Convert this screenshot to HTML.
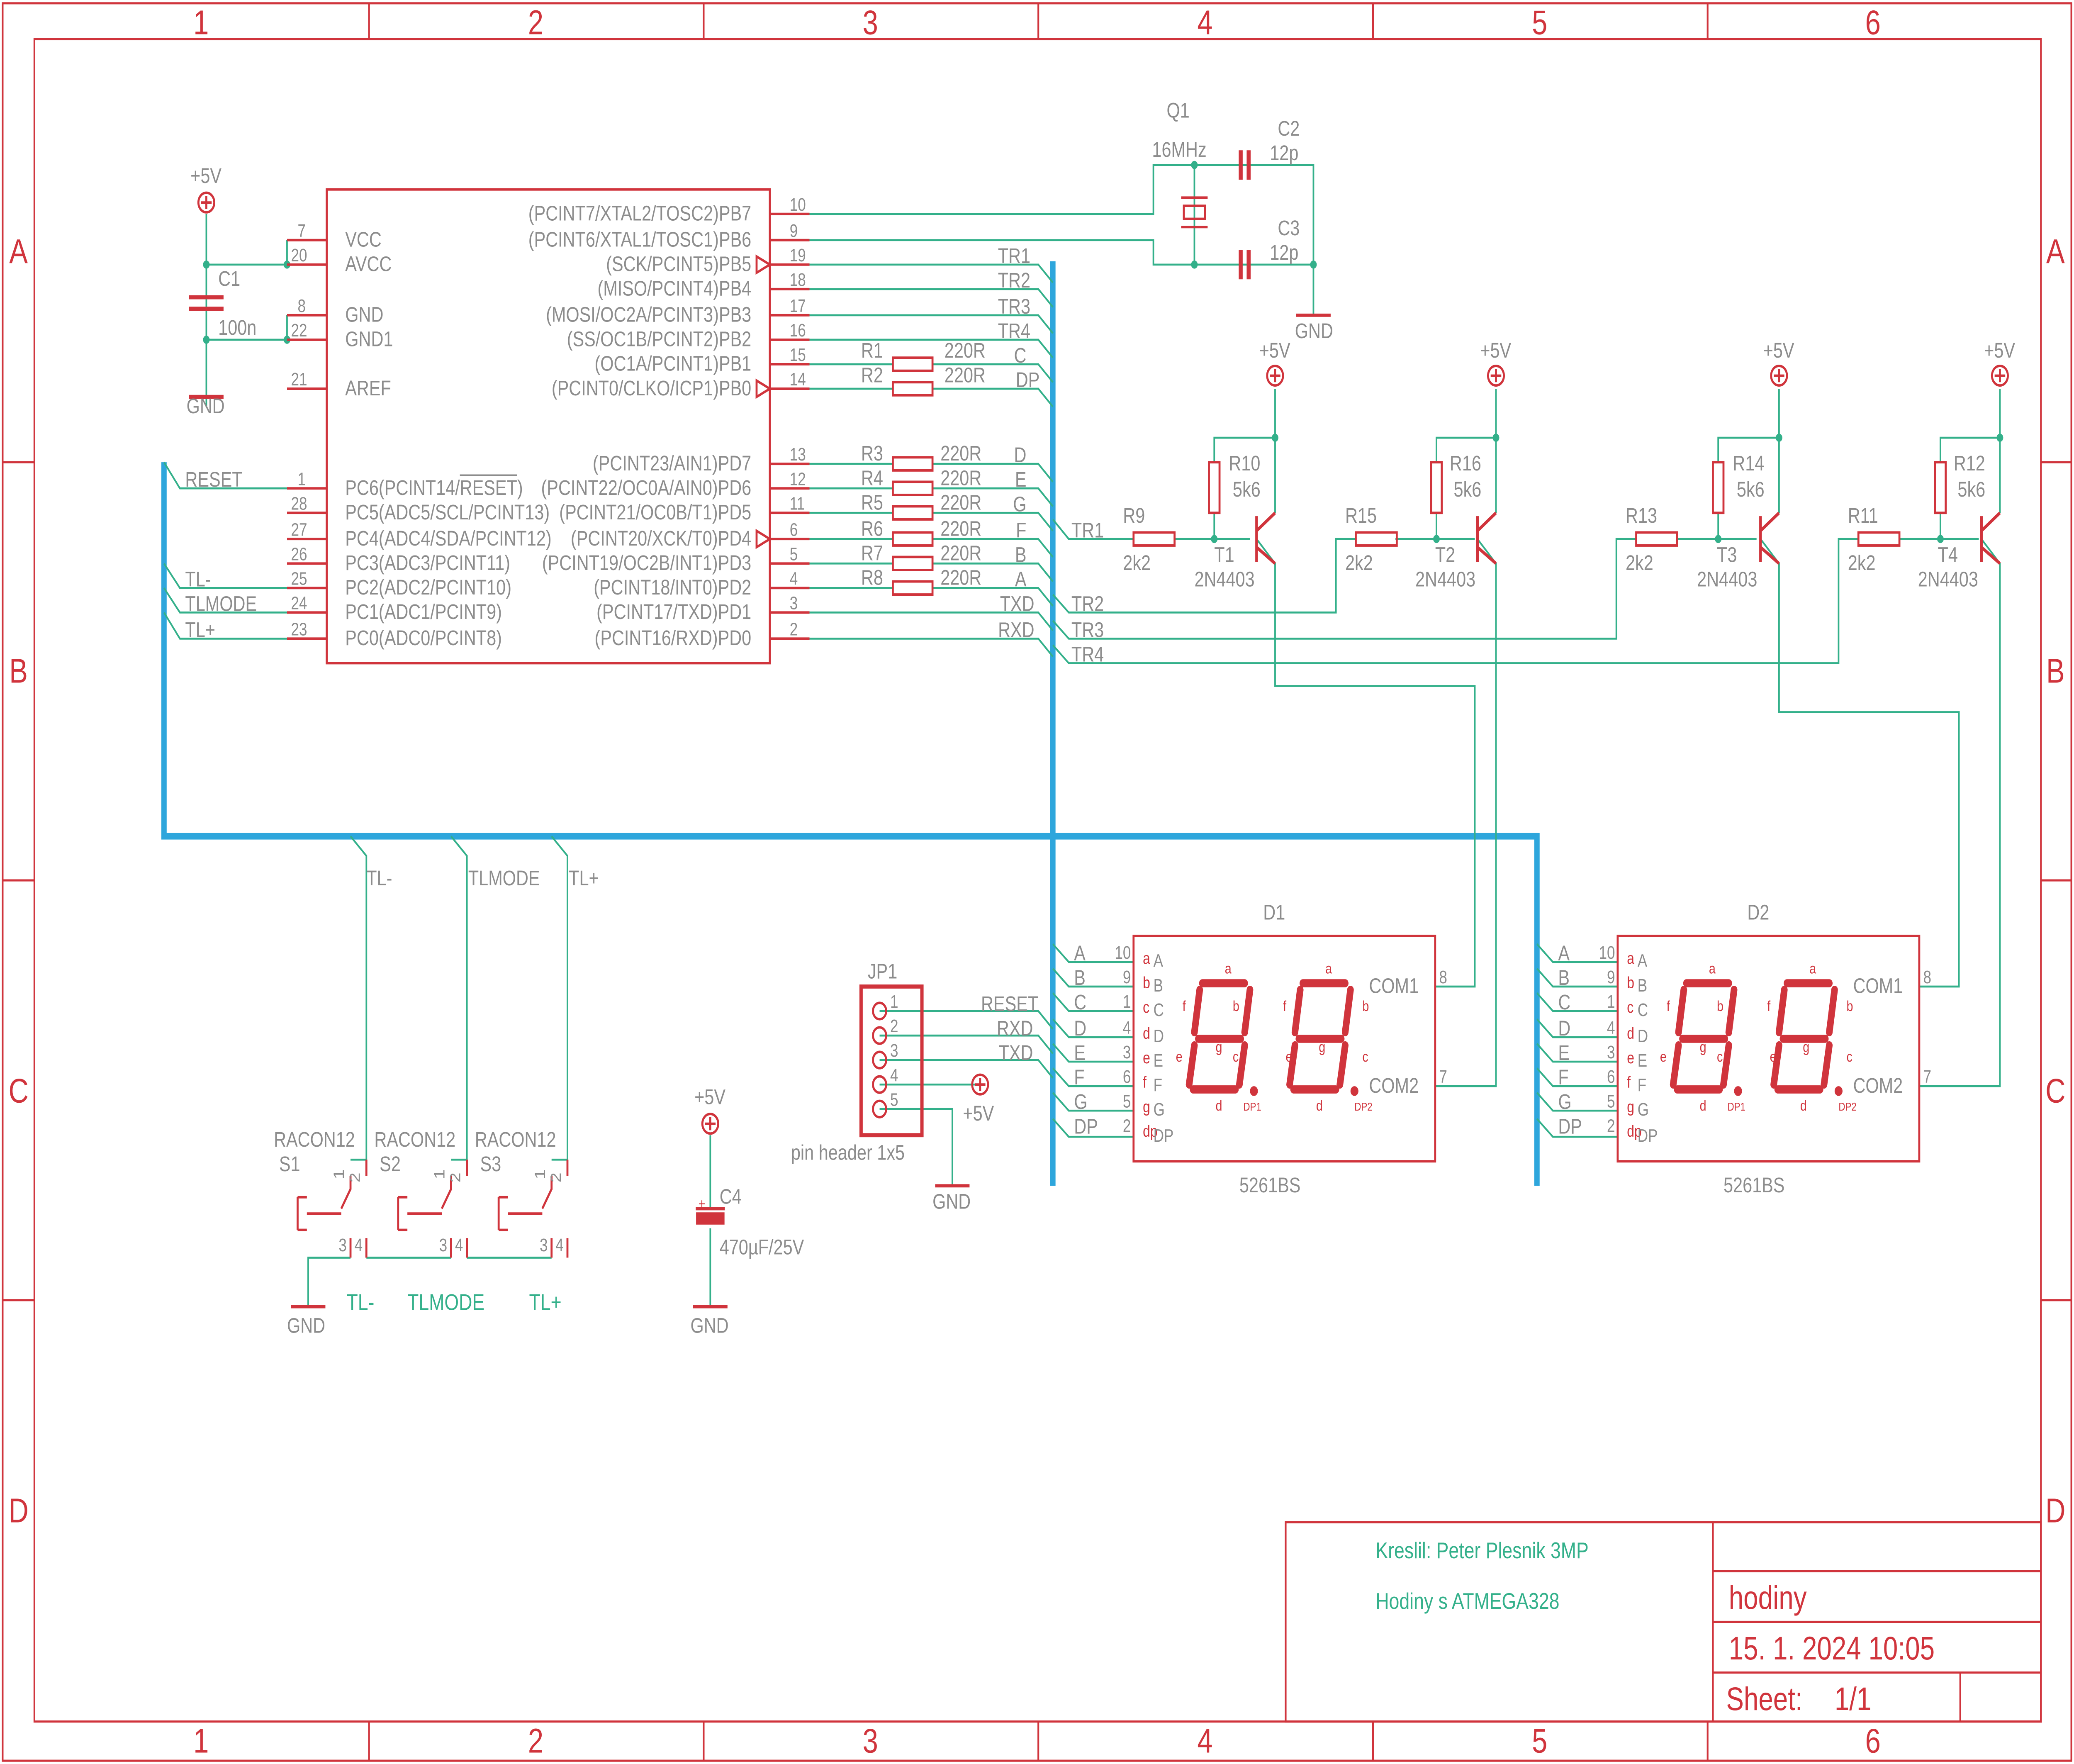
<!DOCTYPE html>
<html><head><meta charset="utf-8"><style>html,body{margin:0;padding:0;background:#fff;overflow:hidden;width:100vw;height:100vh}svg{display:block;position:absolute;left:0;top:0;width:100vw;height:100vh}</style></head>
<body>
<svg xmlns="http://www.w3.org/2000/svg" viewBox="0 0 1568 1080" preserveAspectRatio="none" font-family="Liberation Sans, sans-serif">
<rect width="1568" height="1080" fill="#fff"/>
<g fill="none" stroke="#d0343c" stroke-width="1.3">
<rect x="2" y="2" width="1564" height="1076"/>
<rect x="26" y="24" width="1517" height="1030"/>
<path d="M279 2V24M532 2V24M785 2V24M1038 2V24M1291 2V24M279 1054V1078M532 1054V1078M785 1054V1078M1038 1054V1078M1291 1054V1078M2 283H26M2 539H26M2 796H26M1543 283H1566M1543 539H1566M1543 796H1566"/>
<rect x="972" y="932" width="571" height="122"/>
<path d="M1295 932V1054M1295 962H1543M1295 993H1543M1295 1024H1543M1482 1024V1054"/>
</g>
<g fill="#d0343c" font-size="21" text-anchor="middle">
<text x="152" y="21">1</text><text x="405" y="21">2</text><text x="658" y="21">3</text><text x="911" y="21">4</text><text x="1164" y="21">5</text><text x="1416" y="21">6</text>
<text x="152" y="1073">1</text><text x="405" y="1073">2</text><text x="658" y="1073">3</text><text x="911" y="1073">4</text><text x="1164" y="1073">5</text><text x="1416" y="1073">6</text>
<text x="14" y="161">A</text><text x="14" y="418">B</text><text x="14" y="675">C</text><text x="14" y="932">D</text>
<text x="1554" y="161">A</text><text x="1554" y="418">B</text><text x="1554" y="675">C</text><text x="1554" y="932">D</text>
</g>
<g fill="#d0343c" font-size="20"><text x="1307" y="985">hodiny</text><text x="1307" y="1016">15. 1. 2024 10:05</text><text x="1305" y="1047">Sheet:</text><text x="1387" y="1047">1/1</text></g>
<g fill="#33b08a" font-size="14"><text x="1040" y="954">Kreslil: Peter Plesnik 3MP</text><text x="1040" y="985">Hodiny s ATMEGA328</text>
<text x="262" y="802">TL-</text><text x="308" y="802">TLMODE</text><text x="400" y="802">TL+</text></g>

<g fill="none" stroke="#2ea6dc" stroke-width="4"><path d="M124 283V512H1162V726M796 160V726"/></g>

<g fill="none" stroke="#33b08a" stroke-width="1.2">
<path d="M156 131V249M156 162H217M217 147V162M156 208H217M217 193V208"/>
<path d="M612 131H872V101H993V193M612 147H872V162H993V101"/>
<path d="M903 101V162"/>
<path d="M612 162H785L796 173M612 177H785L796 188M612 193H785L796 204M612 208H785L796 219M612 223H675M705 223H785L796 234M612 238H675M705 238H785L796 249"/>
<path d="M612 284H675M705 284H785L796 295M612 299H675M705 299H785L796 310M612 314H675M705 314H785L796 325M612 330H675M705 330H785L796 341M612 345H675M705 345H785L796 356M612 360H675M705 360H785L796 371M612 375H785L796 386M612 391H785L796 402"/>
<path d="M124 283L136 299H217M124 345L136 360H217M124 360L136 375H217M124 375L136 391H217"/>
<path d="M796 318L808 330H857M888 330H945M918 330V314M918 283V268H964V314M964 238V268M950 330L964 345V420H1115V604H1085"/>
<path d="M796 364L808 375H1010V330H1025M1055 330H1115M1086 330V314M1086 283V268H1131V314M1131 238V268M1117 330L1131 345V665H1085"/>
<path d="M796 380L808 391H1222V330H1237M1268 330H1328M1299 330V314M1299 283V268H1345V314M1345 238V268M1331 330L1345 345V436H1481V604H1451"/>
<path d="M796 395L808 406H1390V330H1405M1436 330H1496M1467 330V314M1467 283V268H1512V314M1512 238V268M1498 330L1512 345V665H1451"/>
<path d="M796 578L808 589H857M796 593L808 604H857M796 608L808 619H857M796 624L808 635H857M796 639L808 650H857M796 654L808 665H857M796 669L808 680H857M796 685L808 696H857"/>
<path d="M1162 578L1174 589H1223M1162 593L1174 604H1223M1162 608L1174 619H1223M1162 624L1174 635H1223M1162 639L1174 650H1223M1162 654L1174 665H1223M1162 669L1174 680H1223M1162 685L1174 696H1223"/>
<path d="M665 619H785L796 630M665 634H785L796 645M665 649H785L796 660M665 664H741M665 679H720V726"/>
<path d="M265 512L277 524V710H265M341 512L353 524V710H341M417 512L429 524V710H417"/>
<path d="M233 800V770H265M277 770H341M353 770H417"/>
<path d="M537 695V740M537 752V800"/>
</g>
<g fill="#33b08a"><circle cx="156" cy="162" r="2.5"/><circle cx="217" cy="162" r="2.5"/><circle cx="156" cy="208" r="2.5"/><circle cx="217" cy="208" r="2.5"/><circle cx="903" cy="101" r="2.5"/><circle cx="903" cy="162" r="2.5"/><circle cx="993" cy="162" r="2.5"/><circle cx="918" cy="330" r="2.5"/><circle cx="964" cy="268" r="2.5"/><circle cx="1086" cy="330" r="2.5"/><circle cx="1131" cy="268" r="2.5"/><circle cx="1299" cy="330" r="2.5"/><circle cx="1345" cy="268" r="2.5"/><circle cx="1467" cy="330" r="2.5"/><circle cx="1512" cy="268" r="2.5"/></g>

<g fill="none" stroke="#d0343c" stroke-width="1.5">
<rect x="247" y="116" width="335" height="290"/>
<path d="M217 147H247M217 162H247M217 193H247M217 208H247M217 238H247M217 299H247M217 314H247M217 330H247M217 345H247M217 360H247M217 375H247M217 391H247"/>
<path d="M582 131H612M582 147H612M582 162H612M582 177H612M582 193H612M582 208H612M582 223H612M582 238H612M582 284H612M582 299H612M582 314H612M582 330H612M582 345H612M582 360H612M582 375H612M582 391H612"/>
<path d="M582 162l-10 -5v10zM582 238l-10 -5v10zM582 330l-10 -5v10z"/>
<rect x="675" y="219" width="30" height="8"/><rect x="675" y="234" width="30" height="8"/>
<rect x="675" y="280" width="30" height="8"/><rect x="675" y="295" width="30" height="8"/><rect x="675" y="310" width="30" height="8"/><rect x="675" y="326" width="30" height="8"/><rect x="675" y="341" width="30" height="8"/><rect x="675" y="356" width="30" height="8"/>
<circle cx="156" cy="124" r="6"/><path d="M152 124h8M156 120v8"/>
<path d="M143 182H169M143 189H169M143 243H169" stroke-width="2.5"/>
<path d="M938 92V110M944 92V110M938 153V171M944 153V171" stroke-width="3"/>
<rect x="895" y="126" width="16" height="8"/><path d="M893 121H913M893 139H913"/>
<path d="M980 193H1006" stroke-width="2"/>
<rect x="857" y="326" width="31" height="8"/><rect x="1025" y="326" width="31" height="8"/><rect x="1237" y="326" width="31" height="8"/><rect x="1405" y="326" width="31" height="8"/>
<rect x="914" y="283" width="8" height="31"/><rect x="1082" y="283" width="8" height="31"/><rect x="1295" y="283" width="8" height="31"/><rect x="1463" y="283" width="8" height="31"/>
<path d="M950 316V344M964 314L950 325M950 335L964 345" stroke-width="2"/>
<path d="M1117 316V344M1131 314L1117 325M1117 335L1131 345" stroke-width="2"/>
<path d="M1331 316V344M1345 314L1331 325M1331 335L1345 345" stroke-width="2"/>
<path d="M1498 316V344M1512 314L1498 325M1498 335L1512 345" stroke-width="2"/>
<circle cx="964" cy="230" r="6"/><circle cx="1131" cy="230" r="6"/><circle cx="1345" cy="230" r="6"/><circle cx="1512" cy="230" r="6"/><circle cx="741" cy="664" r="6"/><circle cx="537" cy="688" r="6"/>
<path d="M960 230h8M964 226v8M1127 230h8M1131 226v8M1341 230h8M1345 226v8M1508 230h8M1512 226v8M737 664h8M741 660v8M533 688h8M537 684v8"/>
<rect x="857" y="573" width="228" height="138"/><rect x="1223" y="573" width="228" height="138"/>
<rect x="651" y="604" width="46" height="91" stroke-width="2.5"/>
<circle cx="665" cy="619" r="5"/><circle cx="665" cy="634" r="5"/><circle cx="665" cy="649" r="5"/><circle cx="665" cy="664" r="5"/><circle cx="665" cy="679" r="5"/>
<path d="M707 726H733M220 800H246M524 800H550M526 740H548" stroke-width="2"/>
<rect x="527" y="743" width="20" height="6" fill="#d0343c"/>
<path d="M225 733V753M225 733H232M225 753H232M232 743H258M265 720V728L258 740M265 758V770M277 710V720M277 758V770"/>
<path d="M301 733V753M301 733H308M301 753H308M308 743H334M341 720V728L334 740M341 758V770M353 710V720M353 758V770"/>
<path d="M377 733V753M377 733H384M377 753H384M384 743H410M417 720V728L410 740M417 758V770M429 710V720M429 758V770"/>
</g>
<g fill="none" stroke="#d0343c" stroke-width="5" stroke-linecap="round">
<path id="dg" d="M909 602H941M907 606L903 632M945 606L941 632M906 636H938M903 640L899 664M941 640L937 664M902 667H934"/>
<use href="#dg" x="76"/><use href="#dg" x="366"/><use href="#dg" x="442"/>
</g>
<g fill="#d0343c"><circle cx="948" cy="668" r="3"/><circle cx="1024" cy="668" r="3"/><circle cx="1314" cy="668" r="3"/><circle cx="1390" cy="668" r="3"/></g>

<g fill="#d0343c" font-size="9">
<text x="926" y="596">a</text><text x="932" y="619">b</text><text x="932" y="650">c</text><text x="919" y="680">d</text><text x="889" y="650">e</text><text x="894" y="619">f</text><text x="919" y="644">g</text><text x="940" y="680" font-size="7">DP1</text>
<text x="1002" y="596">a</text><text x="1030" y="619">b</text><text x="1030" y="650">c</text><text x="995" y="680">d</text><text x="972" y="650">e</text><text x="970" y="619">f</text><text x="997" y="644">g</text><text x="1024" y="680" font-size="7">DP2</text>
<text x="1292" y="596">a</text><text x="1298" y="619">b</text><text x="1298" y="650">c</text><text x="1285" y="680">d</text><text x="1255" y="650">e</text><text x="1260" y="619">f</text><text x="1285" y="644">g</text><text x="1306" y="680" font-size="7">DP1</text>
<text x="1368" y="596">a</text><text x="1396" y="619">b</text><text x="1396" y="650">c</text><text x="1361" y="680">d</text><text x="1338" y="650">e</text><text x="1336" y="619">f</text><text x="1363" y="644">g</text><text x="1390" y="680" font-size="7">DP2</text>
<g font-size="10"><text x="864" y="590">a</text><text x="864" y="605">b</text><text x="864" y="620">c</text><text x="864" y="636">d</text><text x="864" y="651">e</text><text x="864" y="666">f</text><text x="864" y="681">g</text><text x="864" y="696">dp</text>
<text x="1230" y="590">a</text><text x="1230" y="605">b</text><text x="1230" y="620">c</text><text x="1230" y="636">d</text><text x="1230" y="651">e</text><text x="1230" y="666">f</text><text x="1230" y="681">g</text><text x="1230" y="696">dp</text></g>
<text x="528" y="740" font-size="9">+</text>
</g>

<g fill="#8c8c8c" font-size="13">
<text x="144" y="112">+5V</text><text x="165" y="175">C1</text><text x="165" y="205">100n</text><text x="141" y="253">GND</text>
<text x="261" y="151">VCC</text><text x="261" y="166">AVCC</text><text x="261" y="197">GND</text><text x="261" y="212">GND1</text><text x="261" y="242">AREF</text>
<text x="261" y="303">PC6(PCINT14/<tspan text-decoration="overline">RESET</tspan>)</text><text x="261" y="318">PC5(ADC5/SCL/PCINT13)</text><text x="261" y="334">PC4(ADC4/SDA/PCINT12)</text><text x="261" y="349">PC3(ADC3/PCINT11)</text><text x="261" y="364">PC2(ADC2/PCINT10)</text><text x="261" y="379">PC1(ADC1/PCINT9)</text><text x="261" y="395">PC0(ADC0/PCINT8)</text>
<text x="140" y="298">RESET</text><text x="140" y="359">TL-</text><text x="140" y="374">TLMODE</text><text x="140" y="390">TL+</text>
<g text-anchor="end"><text x="568" y="135">(PCINT7/XTAL2/TOSC2)PB7</text><text x="568" y="151">(PCINT6/XTAL1/TOSC1)PB6</text><text x="568" y="166">(SCK/PCINT5)PB5</text><text x="568" y="181">(MISO/PCINT4)PB4</text><text x="568" y="197">(MOSI/OC2A/PCINT3)PB3</text><text x="568" y="212">(SS/OC1B/PCINT2)PB2</text><text x="568" y="227">(OC1A/PCINT1)PB1</text><text x="568" y="242">(PCINT0/CLKO/ICP1)PB0</text>
<text x="568" y="288">(PCINT23/AIN1)PD7</text><text x="568" y="303">(PCINT22/OC0A/AIN0)PD6</text><text x="568" y="318">(PCINT21/OC0B/T1)PD5</text><text x="568" y="334">(PCINT20/XCK/T0)PD4</text><text x="568" y="349">(PCINT19/OC2B/INT1)PD3</text><text x="568" y="364">(PCINT18/INT0)PD2</text><text x="568" y="379">(PCINT17/TXD)PD1</text><text x="568" y="395">(PCINT16/RXD)PD0</text>
<text x="779" y="161">TR1</text><text x="779" y="176">TR2</text><text x="779" y="192">TR3</text><text x="779" y="207">TR4</text><text x="776" y="222">C</text><text x="786" y="237">DP</text>
<text x="776" y="283">D</text><text x="776" y="298">E</text><text x="776" y="313">G</text><text x="776" y="329">F</text><text x="776" y="344">B</text><text x="776" y="359">A</text><text x="782" y="374">TXD</text><text x="782" y="390">RXD</text>
<text x="785" y="619">RESET</text><text x="781" y="634">RXD</text><text x="781" y="649">TXD</text>
</g>
<text x="651" y="219">R1</text><text x="651" y="234">R2</text><text x="714" y="219">220R</text><text x="714" y="234">220R</text>
<text x="651" y="282">R3</text><text x="651" y="297">R4</text><text x="651" y="312">R5</text><text x="651" y="328">R6</text><text x="651" y="343">R7</text><text x="651" y="358">R8</text>
<text x="711" y="282">220R</text><text x="711" y="297">220R</text><text x="711" y="312">220R</text><text x="711" y="328">220R</text><text x="711" y="343">220R</text><text x="711" y="358">220R</text>
<text x="882" y="72">Q1</text><text x="871" y="96">16MHz</text><text x="966" y="83">C2</text><text x="960" y="98">12p</text><text x="966" y="144">C3</text><text x="960" y="159">12p</text><text x="979" y="207">GND</text>
<text x="952" y="219">+5V</text><text x="1119" y="219">+5V</text><text x="1333" y="219">+5V</text><text x="1500" y="219">+5V</text>
<text x="929" y="288">R10</text><text x="932" y="304">5k6</text><text x="1096" y="288">R16</text><text x="1099" y="304">5k6</text><text x="1310" y="288">R14</text><text x="1313" y="304">5k6</text><text x="1477" y="288">R12</text><text x="1480" y="304">5k6</text>
<text x="849" y="320">R9</text><text x="849" y="349">2k2</text><text x="1017" y="320">R15</text><text x="1017" y="349">2k2</text><text x="1229" y="320">R13</text><text x="1229" y="349">2k2</text><text x="1397" y="320">R11</text><text x="1397" y="349">2k2</text>
<text x="918" y="344">T1</text><text x="903" y="359">2N4403</text><text x="1085" y="344">T2</text><text x="1070" y="359">2N4403</text><text x="1298" y="344">T3</text><text x="1283" y="359">2N4403</text><text x="1465" y="344">T4</text><text x="1450" y="359">2N4403</text>
<text x="810" y="329">TR1</text><text x="810" y="374">TR2</text><text x="810" y="390">TR3</text><text x="810" y="405">TR4</text>
<text x="277" y="542">TL-</text><text x="354" y="542">TLMODE</text><text x="430" y="542">TL+</text>
<text x="955" y="563">D1</text><text x="1321" y="563">D2</text><text x="937" y="730">5261BS</text><text x="1303" y="730">5261BS</text>
<text x="1035" y="608">COM1</text><text x="1035" y="669">COM2</text><text x="1401" y="608">COM1</text><text x="1401" y="669">COM2</text>
<text x="656" y="599">JP1</text><text x="598" y="710">pin header 1x5</text><text x="728" y="686">+5V</text><text x="705" y="740">GND</text>
<text x="525" y="676">+5V</text><text x="544" y="737">C4</text><text x="544" y="768">470µF/25V</text><text x="522" y="816">GND</text><text x="217" y="816">GND</text>
<text x="207" y="702">RACON12</text><text x="283" y="702">RACON12</text><text x="359" y="702">RACON12</text><text x="211" y="717">S1</text><text x="287" y="717">S2</text><text x="363" y="717">S3</text>
<text x="812" y="588">A</text><text x="812" y="603">B</text><text x="812" y="618">C</text><text x="812" y="634">D</text><text x="812" y="649">E</text><text x="812" y="664">F</text><text x="812" y="679">G</text><text x="812" y="694">DP</text>
<text x="1178" y="588">A</text><text x="1178" y="603">B</text><text x="1178" y="618">C</text><text x="1178" y="634">D</text><text x="1178" y="649">E</text><text x="1178" y="664">F</text><text x="1178" y="679">G</text><text x="1178" y="694">DP</text>
</g>
<g fill="#8c8c8c" font-size="11">
<text x="872" y="592">A</text><text x="872" y="607">B</text><text x="872" y="622">C</text><text x="872" y="638">D</text><text x="872" y="653">E</text><text x="872" y="668">F</text><text x="872" y="683">G</text><text x="872" y="699">DP</text>
<text x="1238" y="592">A</text><text x="1238" y="607">B</text><text x="1238" y="622">C</text><text x="1238" y="638">D</text><text x="1238" y="653">E</text><text x="1238" y="668">F</text><text x="1238" y="683">G</text><text x="1238" y="699">DP</text>
<g text-anchor="end"><text x="855" y="587">10</text><text x="855" y="602">9</text><text x="855" y="617">1</text><text x="855" y="633">4</text><text x="855" y="648">3</text><text x="855" y="663">6</text><text x="855" y="678">5</text><text x="855" y="693">2</text>
<text x="1221" y="587">10</text><text x="1221" y="602">9</text><text x="1221" y="617">1</text><text x="1221" y="633">4</text><text x="1221" y="648">3</text><text x="1221" y="663">6</text><text x="1221" y="678">5</text><text x="1221" y="693">2</text></g>
<text x="1088" y="602">8</text><text x="1088" y="663">7</text><text x="1454" y="602">8</text><text x="1454" y="663">7</text>
<text x="673" y="617">1</text><text x="673" y="632">2</text><text x="673" y="647">3</text><text x="673" y="662">4</text><text x="673" y="677">5</text>
<text x="225" y="145">7</text><text x="220" y="160">20</text><text x="225" y="191">8</text><text x="220" y="206">22</text><text x="220" y="236">21</text><text x="225" y="297">1</text><text x="220" y="312">28</text><text x="220" y="328">27</text><text x="220" y="343">26</text><text x="220" y="358">25</text><text x="220" y="373">24</text><text x="220" y="389">23</text>
<text x="597" y="129">10</text><text x="597" y="145">9</text><text x="597" y="160">19</text><text x="597" y="175">18</text><text x="597" y="191">17</text><text x="597" y="206">16</text><text x="597" y="221">15</text><text x="597" y="236">14</text><text x="597" y="282">13</text><text x="597" y="297">12</text><text x="597" y="312">11</text><text x="597" y="328">6</text><text x="597" y="343">5</text><text x="597" y="358">4</text><text x="597" y="373">3</text><text x="597" y="389">2</text>
<text x="256" y="766">3</text><text x="268" y="766">4</text><text x="332" y="766">3</text><text x="344" y="766">4</text><text x="408" y="766">3</text><text x="420" y="766">4</text>
<text x="260" y="722" transform="rotate(-90 260 722)">1</text><text x="272" y="724" transform="rotate(-90 272 724)">2</text><text x="336" y="722" transform="rotate(-90 336 722)">1</text><text x="348" y="724" transform="rotate(-90 348 724)">2</text><text x="412" y="722" transform="rotate(-90 412 722)">1</text><text x="424" y="724" transform="rotate(-90 424 724)">2</text>
</g>
</svg>
</body></html>
